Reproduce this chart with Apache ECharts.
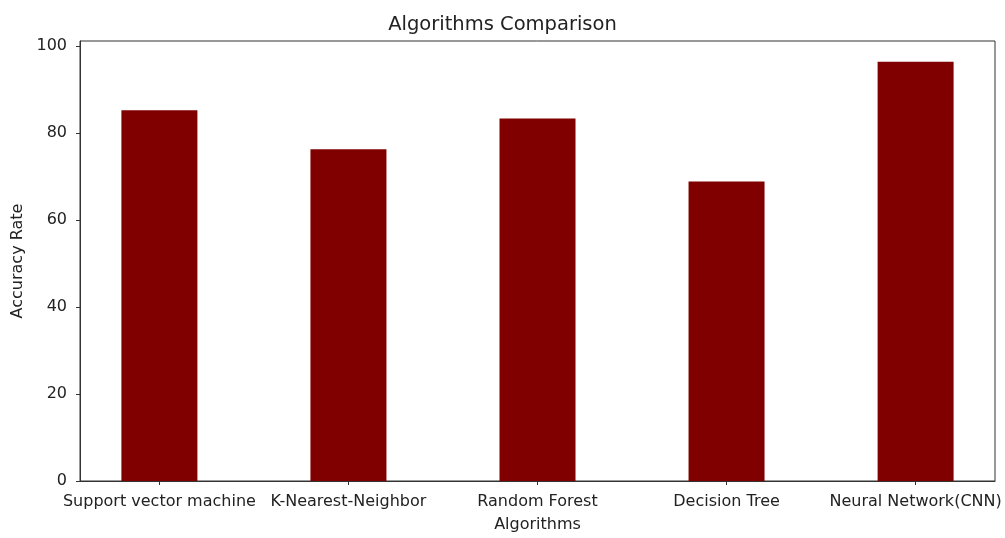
<!DOCTYPE html>
<html>
<head>
<meta charset="utf-8">
<script src="https://cdn.jsdelivr.net/npm/echarts@6/dist/echarts.min.js"></script>
<style>html,body{margin:0;padding:0;background:#fff;}#c{width:1005px;height:538px;}</style>
</head>
<body>
<div id="c"></div>
<script>
const categories = ['Support vector machine', 'K-Nearest-Neighbor', 'Random Forest', 'Decision Tree', 'Neural Network(CNN)'];
const accuracy = [85.3, 76.3, 83.4, 68.9, 96.4];
const yTicks = [0, 20, 40, 60, 80, 100];
const positions = [0, 1, 2, 3, 4];

const font = 'DejaVu Sans';
const chart = echarts.init(document.getElementById('c'));
chart.setOption({
  animation: false,
  backgroundColor: '#fff',
  title: {
    text: 'Algorithms Comparison', left: 'center', top: 10,
    textStyle: { fontFamily: font, fontSize: 19.5, fontWeight: 'normal', color: '#222' }
  },
  grid: { left: 80, right: 10, top: 41, bottom: 50, show: true, borderColor: '#333', borderWidth: 1, backgroundColor: 'transparent' },
  xAxis: {
    type: 'value', min: -0.42, max: 4.42,
    name: 'Algorithms', nameLocation: 'middle', nameGap: 36,
    nameTextStyle: { fontFamily: font, fontSize: 16, color: '#222' },
    axisLine: { show: true, onZero: false, lineStyle: { color: '#333' } },
    axisTick: { show: true, length: 4, lineStyle: { color: '#333' }, customValues: positions },
    axisLabel: {
      customValues: positions, margin: 13,
      fontFamily: font, fontSize: 16, color: '#222',
      formatter: v => categories[Math.round(v)] || ''
    },
    splitLine: { show: false }
  },
  yAxis: {
    type: 'value', min: 0, max: 101.2,
    name: 'Accuracy Rate', nameLocation: 'middle', nameGap: 46, nameRotate: 90,
    nameTextStyle: { fontFamily: font, fontSize: 16, color: '#222' },
    axisLine: { show: true, onZero: false, lineStyle: { color: '#333' } },
    axisTick: { show: true, length: 4, lineStyle: { color: '#333' }, customValues: yTicks },
    axisLabel: { customValues: yTicks, margin: 13, fontFamily: font, fontSize: 16, color: '#222' },
    splitLine: { show: false }
  },
  series: [{
    type: 'bar',
    barWidth: 76,
    itemStyle: { color: '#800000' },
    data: positions.map((p, i) => [p, accuracy[i]])
  }]
});
</script>
</body>
</html>
